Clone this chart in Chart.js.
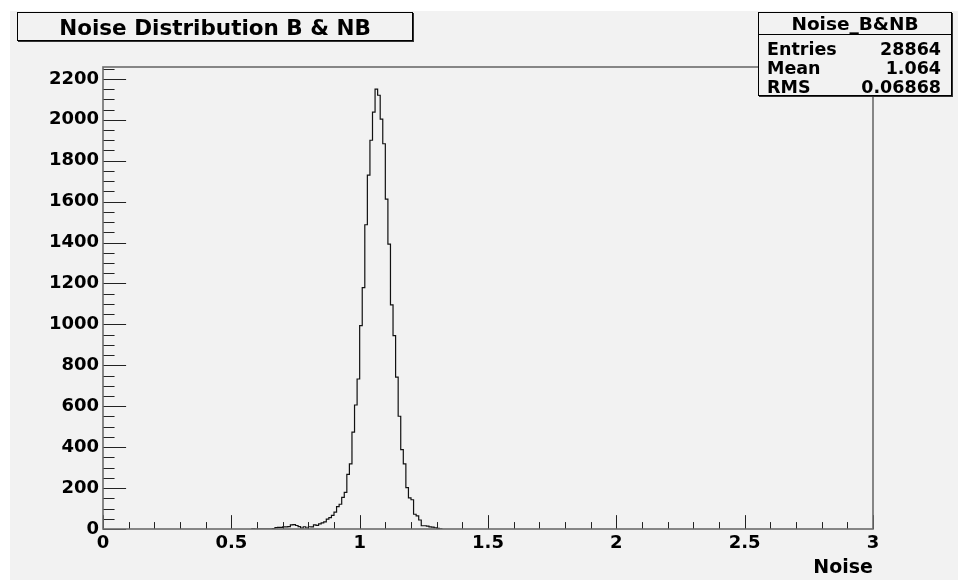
<!DOCTYPE html>
<html>
<head>
<meta charset="utf-8">
<script src="https://cdn.jsdelivr.net/npm/chart.js@4.4.0/dist/chart.umd.min.js"></script>
<style>
  html, body { margin: 0; padding: 0; background: #fff; }
  #pad { position: absolute; left: 10px; top: 11px; width: 948px; height: 569px; background: #f2f2f2; }
  #plot { position: absolute; left: 0; top: 0; }
  .box { position: absolute; background: #f2f2f2; border: 1px solid #000; box-shadow: 1px 1px 0 #333;
         font-family: "DejaVu Sans", sans-serif; font-weight: bold; color: #000; box-sizing: border-box; }
  #title { left: 17px; top: 12px; width: 396px; height: 29px; font-size: 21.5px; line-height: 29px; text-align: center; }
  #stats { left: 758px; top: 12px; width: 194px; height: 84px; font-size: 17.5px; overflow: hidden; }
  #stats .head { height: 21px; line-height: 21px; text-align: center; font-size: 18.5px; border-bottom: 1px solid #000; }
  #stats .rows { padding-top: 5px; }
  #stats .row { display: flex; justify-content: space-between; padding: 0 10px 0 8px; height: 19px; line-height: 19px; }
</style>
</head>
<body>
<div id="pad"></div>
<canvas id="plot" width="965" height="580"></canvas>
<div id="title" class="box">Noise Distribution B &amp; NB</div>
<div id="stats" class="box"></div>
<script>
// ---- DATA (bin width 0.01) ----
const binLow = [
  0.58, 0.59, 0.60, 0.61, 0.62, 0.63, 0.64, 0.65, 0.66, 0.67,
  0.68, 0.69, 0.70, 0.71, 0.72, 0.73, 0.74, 0.75, 0.76, 0.77,
  0.78, 0.79, 0.80, 0.81, 0.82, 0.83, 0.84, 0.85, 0.86, 0.87,
  0.88, 0.89, 0.90, 0.91, 0.92, 0.93, 0.94, 0.95, 0.96, 0.97,
  0.98, 0.99, 1.00, 1.01, 1.02, 1.03, 1.04, 1.05, 1.06, 1.07,
  1.08, 1.09, 1.10, 1.11, 1.12, 1.13, 1.14, 1.15, 1.16, 1.17,
  1.18, 1.19, 1.20, 1.21, 1.22, 1.23, 1.24, 1.25, 1.26, 1.27,
  1.28, 1.29, 1.30, 1.31
];
const counts = [
  1, 0, 0, 0, 0, 0, 0, 0, 2, 7,
  8, 8, 10, 10, 12, 20, 21, 17, 12, 5,
  11, 5, 11, 10, 20, 18, 25, 30, 35, 48,
  56, 67, 82, 109, 121, 155, 179, 267, 318, 473,
  606, 733, 994, 1180, 1487, 1730, 1900, 2037, 2150, 2120,
  2003, 1883, 1612, 1392, 1095, 945, 742, 551, 388, 318,
  202, 152, 143, 72, 64, 44, 16, 16, 14, 10,
  9, 6, 3, 1
];
const lastEdge = 1.32;
const xTickStep = 0.5;
const yTickStep = 200;
const yMax = 2258;

const statsTitle = "Noise_B&NB";
const statsLabels = ["Entries", "Mean", "RMS"];
const statsValues = ["28864", "1.064", "0.06868"];

// ---- stats box ----
const statsBox = document.getElementById("stats");
let html = '<div class="head">' + statsTitle.replace("&", "&amp;") + '</div><div class="rows">';
statsLabels.forEach((l, i) => {
  html += '<div class="row"><span>' + l + '</span><span>' + statsValues[i] + '</span></div>';
});
statsBox.innerHTML = html + '</div>';

// step outline points: start at the first lower edge, close at the last upper edge
const points = [{ x: binLow[0], y: 0 }];
binLow.forEach((b, i) => points.push({ x: b, y: counts[i] }));
points.push({ x: lastEdge, y: 0 });

// frame + inward ROOT style ticks
const rootAxes = {
  id: "rootAxes",
  afterDatasetsDraw(chart) {
    const { ctx, chartArea: a, scales: { x, y } } = chart;
    const w = a.right - a.left, h = a.bottom - a.top;
    ctx.save();
    ctx.strokeStyle = "#222";
    ctx.lineWidth = 1;
    ctx.beginPath();
    for (let i = 0; i <= 30; i++) {
      const px = Math.round(x.getPixelForValue(i / 10)) + 0.5;
      const len = i % 5 === 0 ? 0.03 * h : 0.015 * h;
      ctx.moveTo(px, a.bottom);
      ctx.lineTo(px, a.bottom - len);
    }
    for (let v = 0; v <= yMax; v += 50) {
      const py = Math.round(y.getPixelForValue(v)) + 0.5;
      const len = v % 200 === 0 ? 0.03 * w : 0.015 * w;
      ctx.moveTo(a.left, py);
      ctx.lineTo(a.left + len, py);
    }
    ctx.stroke();
    ctx.strokeStyle = "#6b6b6b";
    ctx.lineWidth = 1.6;
    ctx.strokeRect(a.left, a.top, w, h);
    ctx.restore();
  }
};

const font = { family: "'DejaVu Sans', sans-serif", weight: "bold", size: 18 };

new Chart(document.getElementById("plot"), {
  type: "line",
  data: {
    datasets: [{
      data: points,
      stepped: "before",
      borderColor: "#111",
      borderWidth: 1.2,
      pointRadius: 0,
      fill: false
    }]
  },
  options: {
    responsive: false,
    animation: false,
    layout: { padding: { top: 67, right: 92, left: 0, bottom: 0 } },
    plugins: { legend: { display: false }, tooltip: { enabled: false } },
    scales: {
      x: {
        type: "linear",
        min: 0,
        max: 3,
        grid: { display: false, drawTicks: false },
        border: { display: false },
        ticks: { stepSize: xTickStep, color: "#000", font, padding: 4, maxRotation: 0, autoSkip: false,
                 callback: v => String(v) },
        title: { display: true, text: "Noise", align: "end", color: "#000",
                 font: { family: "'DejaVu Sans', sans-serif", weight: "bold", size: 19 }, padding: { top: 0, bottom: 1 } },
        afterFit: s => { s.height = 51; }
      },
      y: {
        min: 0,
        max: yMax,
        grid: { display: false, drawTicks: false },
        border: { display: false },
        ticks: { stepSize: yTickStep, includeBounds: false, color: "#000", font, padding: 4,
                 callback: v => String(v) },
        afterFit: s => { s.width = 103; }
      }
    }
  },
  plugins: [rootAxes]
});
</script>
</body>
</html>
